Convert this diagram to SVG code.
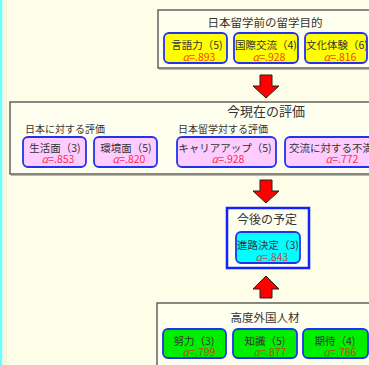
<svg xmlns="http://www.w3.org/2000/svg" width="369" height="365" viewBox="0 0 369 365">
<style>
text{font-family:"Noto Sans CJK JP","Noto Sans",sans-serif;fill:#333}
.frame{fill:#FFFFF0;stroke:#4a4a4a;stroke-width:1.3}
.sh{fill:none;stroke:#B8B8A8;stroke-width:1}
.t{font-size:11.5px;text-anchor:middle}
.s{font-size:10px}
.b{stroke:#2233EE;stroke-width:1.8}
.y{fill:#FFFF00}
.p{fill:#FFCCFF}
.c{fill:#00FFFF}
.g{fill:#00EE00}
.l{font-size:10.5px;text-anchor:middle}
.a{font-size:10.5px;text-anchor:middle}
.ay{fill:#F24A00}
.ap{fill:#FF2A55}
.ac{fill:#C84848}
.ag{fill:#B84A10}
.arr{fill:#FF0000;stroke:#222;stroke-width:1}
</style>
<rect x="0" y="0" width="369" height="365" fill="#FEFDE8"/>
<rect x="0" y="0" width="2.5" height="365" fill="#66FFFF"/>
<rect x="2.5" y="0" width="4.5" height="365" fill="#F6F5DE"/>

<g id="connectors">
<polygon class="arr" points="260,75 272,75 272,86 279,86 266,98 253,86 260,86"/>
<polygon class="arr" points="260,180 272,180 272,191 279,191 266,203 253,191 260,191"/>
<polygon class="arr" points="266,276 279,289 272,289 272,298 260,298 260,289 253,289"/>
</g>

<g id="purpose">
<rect class="sh" x="159.5" y="11.5" width="220" height="58"/>
<rect class="frame" x="158" y="10" width="220" height="58"/>
<text class="t" x="265" y="27">日本留学前の留学目的</text>
<g id="lang">
<rect class="b y" x="164" y="33" width="63" height="30" rx="5"/>
<text class="l" x="197" y="48.5">言語力（5)</text>
<text class="a ay" x="199" y="61"><tspan font-style="italic">α</tspan>=.893</text>
</g>
<g id="intl">
<rect class="b y" x="234" y="33" width="64" height="30" rx="5"/>
<text class="l" x="266" y="48.5">国際交流（4)</text>
<text class="a ay" x="269" y="61"><tspan font-style="italic">α</tspan>=.928</text>
</g>
<g id="culture">
<rect class="b y" x="305" y="33" width="62" height="30" rx="5"/>
<text class="l" x="337" y="48.5">文化体験（6)</text>
<text class="a ay" x="340" y="61"><tspan font-style="italic">α</tspan>=.816</text>
</g>
</g>

<g id="current">
<rect class="sh" x="11.5" y="103.5" width="370" height="72"/>
<rect class="frame" x="10" y="102" width="370" height="72"/>
<text x="266" y="116" font-size="13" text-anchor="middle">今現在の評価</text>
<text class="s" x="25" y="133">日本に対する評価</text>
<text class="s" x="178" y="133">日本留学対する評価</text>
<g id="life">
<rect class="b p" x="23" y="137" width="63" height="30" rx="5"/>
<text class="l" x="55" y="151.5">生活面（3)</text>
<text class="a ap" x="58" y="163"><tspan font-style="italic">α</tspan>=.853</text>
</g>
<g id="env">
<rect class="b p" x="94" y="137" width="63" height="30" rx="5"/>
<text class="l" x="126" y="151.5">環境面（5)</text>
<text class="a ap" x="129" y="163"><tspan font-style="italic">α</tspan>=.820</text>
</g>
<g id="career">
<rect class="b p" x="177" y="137" width="99" height="30" rx="5"/>
<text class="l" x="225" y="151.5">キャリアアップ（5)</text>
<text class="a ap" x="228" y="163"><tspan font-style="italic">α</tspan>=.928</text>
</g>
<g id="dissat">
<rect class="b p" x="285" y="137" width="100" height="30" rx="5"/>
<text x="289" y="151.5" font-size="10.5">交流に対する不満</text>
<text class="a ap" x="342" y="163"><tspan font-style="italic">α</tspan>=.772</text>
</g>
</g>

<g id="plan">
<rect x="227" y="208" width="82" height="60" fill="#FFFFF0" stroke="#1122FF" stroke-width="2.5"/>
<text x="267" y="224" font-size="12" text-anchor="middle">今後の予定</text>
<g id="path">
<rect class="b c" x="236" y="232" width="64" height="31" rx="5"/>
<text class="l" x="268" y="248.5">進路決定（3)</text>
<text class="a ac" x="272" y="261"><tspan font-style="italic">α</tspan>=.843</text>
</g>
</g>

<g id="talent">
<rect class="frame" x="157" y="303" width="220" height="70"/>
<text class="t" x="265" y="322">高度外国人材</text>
<g id="effort">
<rect class="b g" x="163" y="329" width="63" height="29" rx="5"/>
<text class="l" x="194" y="344.5">努力（3)</text>
<text class="a ag" x="199" y="356"><tspan font-style="italic">α</tspan>=.799</text>
</g>
<g id="know">
<rect class="b g" x="233" y="329" width="64" height="29" rx="5"/>
<text class="l" x="265" y="344.5">知識（5)</text>
<text class="a ag" x="270" y="356"><tspan font-style="italic">α</tspan>=.877</text>
</g>
<g id="expect">
<rect class="b g" x="303" y="329" width="65" height="29" rx="5"/>
<text class="l" x="335" y="344.5">期待（4)</text>
<text class="a ag" x="340" y="356"><tspan font-style="italic">α</tspan>=.786</text>
</g>
</g>
</svg>
